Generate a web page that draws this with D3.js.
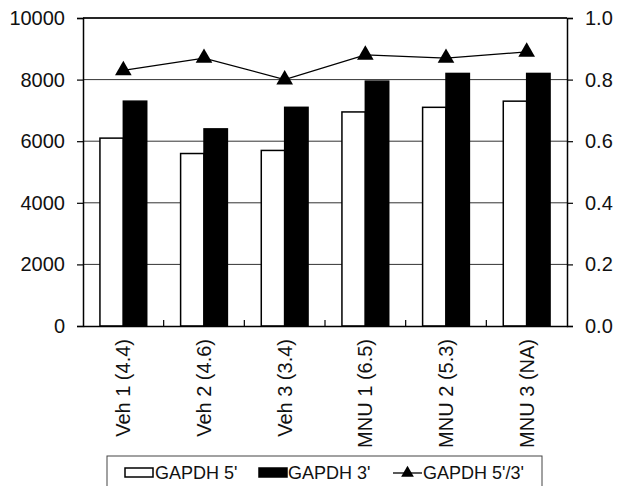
<!DOCTYPE html>
<html><head><meta charset="utf-8">
<script src="https://cdn.jsdelivr.net/npm/d3@7"></script>
<style>body{margin:0;background:#fff}svg{display:block;font-family:"Liberation Sans",Arial,sans-serif}</style>
</head><body><svg id="c" width="617" height="486"></svg>
<script>
const categories = ["Veh 1 (4.4)","Veh 2 (4.6)","Veh 3 (3.4)","MNU 1 (6.5)","MNU 2 (5.3)","MNU 3 (NA)"];
const gapdh5 = [6100,5600,5700,6950,7100,7300];
const gapdh3 = [7300,6400,7100,7950,8200,8200];
const ratio = [0.83,0.87,0.80,0.88,0.87,0.89];
const leftTicks = [0,2000,4000,6000,8000,10000];
const rightTicks = [0,0.2,0.4,0.6,0.8,1.0];
const legendLabels = ["GAPDH 5'","GAPDH 3'","GAPDH 5'/3'"];

const svg = d3.select("#c");
const L=83,R=567,T=18,B=326;
const x = d3.scaleBand().domain(categories).range([L,R]);
const y = d3.scaleLinear().domain([0,10000]).range([B,T]);
const y2 = d3.scaleLinear().domain([0,1]).range([B,T]);
const bw = x.bandwidth()*0.29;

// gridlines
svg.append("g").selectAll("line").data(leftTicks.slice(1)).join("line")
  .attr("x1",L).attr("x2",R).attr("y1",d=>y(d)).attr("y2",d=>y(d))
  .attr("stroke","#333").attr("stroke-width",1);

// bars
const g = svg.append("g");
categories.forEach((c,i)=>{
  const cx = x(c)+x.bandwidth()/2;
  g.append("rect").attr("x",cx-bw).attr("y",y(gapdh5[i])).attr("width",bw).attr("height",B-y(gapdh5[i]))
    .attr("fill","#fff").attr("stroke","#000").attr("stroke-width",1.5);
  g.append("rect").attr("x",cx).attr("y",y(gapdh3[i])).attr("width",bw).attr("height",B-y(gapdh3[i]))
    .attr("fill","#000").attr("stroke","#000").attr("stroke-width",1.5);
});

// axes
const ax = svg.append("g").attr("transform",`translate(${L},0)`)
  .call(d3.axisLeft(y).tickValues(leftTicks).tickSize(6).tickFormat(d3.format("d")));
const ax2 = svg.append("g").attr("transform",`translate(${R},0)`)
  .call(d3.axisRight(y2).tickValues(rightTicks).tickSize(6).tickFormat(d3.format(".1f")));
[ax,ax2].forEach(a=>{
  a.select(".domain").attr("stroke","#000").attr("stroke-width",1.5);
  a.selectAll(".tick line").attr("stroke","#000").attr("stroke-width",1.2);
  a.selectAll("text").attr("font-size",20).attr("fill","#111").attr("font-family","Liberation Sans, Arial, sans-serif");
});
ax.selectAll("text").attr("dx",-9);
ax2.selectAll("text").attr("dx",9);
// top border
svg.append("line").attr("x1",L).attr("x2",R).attr("y1",T).attr("y2",T).attr("stroke","#000").attr("stroke-width",1.5);
// x axis
const xa = svg.append("g").attr("transform",`translate(0,${B})`)
  .call(d3.axisBottom(x).tickSize(0));
xa.select(".domain").attr("stroke","#000").attr("stroke-width",1.5);
xa.selectAll(".tick text").attr("font-size",20).attr("fill","#111")
  .attr("font-family","Liberation Sans, Arial, sans-serif")
  .attr("transform","rotate(-90)").attr("text-anchor","end")
  .attr("x",-13).attr("y",0).attr("dy","0.35em");
// category boundary ticks (inside)
svg.append("g").selectAll("line").data(categories.slice(1)).join("line")
  .attr("x1",d=>x(d)).attr("x2",d=>x(d)).attr("y1",B).attr("y2",B-6)
  .attr("stroke","#000").attr("stroke-width",1.2);

// ratio line
const line = d3.line().x((d,i)=>x(categories[i])+x.bandwidth()/2).y(d=>y2(d));
svg.append("path").datum(ratio).attr("d",line).attr("fill","none").attr("stroke","#000").attr("stroke-width",1.3);
const tri = d3.symbol().type(d3.symbolTriangle).size(120);
svg.append("g").selectAll("path").data(ratio).join("path")
  .attr("d",tri).attr("transform",(d,i)=>`translate(${x(categories[i])+x.bandwidth()/2},${y2(d)})`).attr("fill","#000");

// legend
const lg = svg.append("g");
lg.append("rect").attr("x",107).attr("y",456).attr("width",435).attr("height",40)
  .attr("fill","#fff").attr("stroke","#444").attr("stroke-width",1);
lg.append("rect").attr("x",125).attr("y",468).attr("width",28).attr("height",9).attr("fill","#fff").attr("stroke","#000").attr("stroke-width",1.5);
lg.append("rect").attr("x",259).attr("y",468).attr("width",28).attr("height",9).attr("fill","#000").attr("stroke","#000").attr("stroke-width",1.5);
lg.append("line").attr("x1",393).attr("x2",422).attr("y1",473).attr("y2",473).attr("stroke","#000").attr("stroke-width",1.3);
lg.append("path").attr("d",d3.symbol().type(d3.symbolTriangle).size(70)).attr("transform","translate(407.5,473)");
const lx=[155,288,423];
legendLabels.forEach((t,i)=>lg.append("text").attr("x",lx[i]).attr("y",479).attr("font-size",18).attr("fill","#111").text(t));
</script></body></html>
